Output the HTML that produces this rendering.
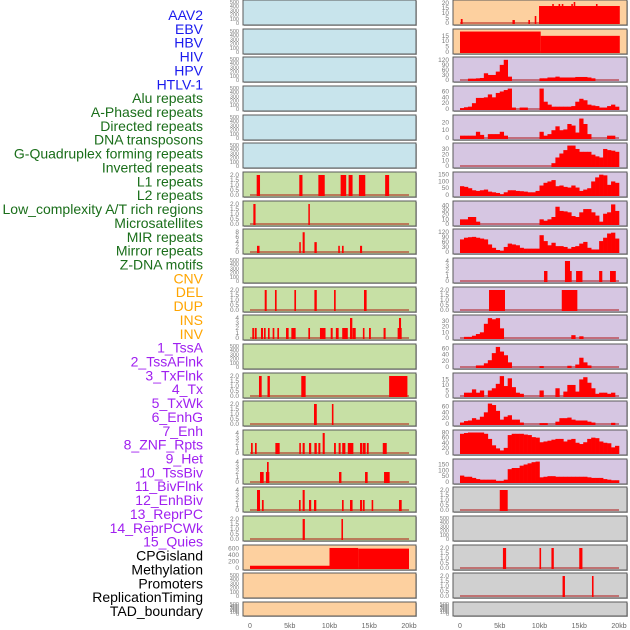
<!DOCTYPE html>
<html><head><meta charset="utf-8">
<style>
body{margin:0;background:#fff;}
svg{display:block;font-family:"Liberation Sans",sans-serif;}
</style></head>
<body>
<svg id="chart" width="630" height="630" viewBox="0 0 630 630"></svg>
<script>
// ---------- labels ----------
const trackLabels = ["AAV2","EBV","HBV","HIV","HPV","HTLV-1","Alu repeats","A-Phased repeats","Directed repeats","DNA transposons","G-Quadruplex forming repeats","Inverted repeats","L1 repeats","L2 repeats","Low_complexity A/T rich regions","Microsatellites","MIR repeats","Mirror repeats","Z-DNA motifs","CNV","DEL","DUP","INS","INV","1_TssA","2_TssAFlnk","3_TxFlnk","4_Tx","5_TxWk","6_EnhG","7_Enh","8_ZNF_Rpts","9_Het","10_TssBiv","11_BivFlnk","12_EnhBiv","13_ReprPC","14_ReprPCWk","15_Quies","CPGisland","Methylation","Promoters","ReplicationTiming","TAD_boundary"];
const labelGroups = [6,13,5,15,5]; // viruses, repeats, SV, chromatin states, other
const xTickLabels = ["0","5kb","10kb","15kb","20kb"];
const xTickValues = [0,5,10,15,20];

// ---------- left column data: segments [startKb, endKb, value] ----------
const L7 = [[0.84,1.26,2],[6.2,6.6,2],[8.6,9.4,2],[11.4,12.1,2],[12.4,12.9,2],[13.7,14.5,2],[17.0,17.5,2]];
const L8 = [[0.42,0.7,2],[7.34,7.5,2]];
const L9 = [[0.88,1.2,2.5],[6.2,6.37,4],[6.62,6.88,8],[8.1,8.4,4],[11.1,11.3,2.5],[11.57,11.78,2.5],[13.84,14.1,2.5]];
const L11 = [[1.85,2.1,2],[3.14,3.35,2],[5.58,5.79,2],[8.1,8.4,2],[10.57,10.78,2],[14.34,14.67,2]];
const L12 = [[0.29,0.5,2],[0.59,0.84,2],[1.38,1.64,2],[1.76,1.97,2],[2.26,2.47,2],[2.85,3.06,2],[3.44,3.65,2],[4.53,4.86,2],[5.2,5.74,2],[7.34,7.55,2],[8.8,9.5,2],[10.15,10.4,2],[10.8,11.15,2],[11.6,12.3,2],[12.58,12.87,4],[12.9,13.3,2],[14.2,14.4,2],[14.97,15.2,2],[16.8,17.06,2],[18.57,19.08,2],[18.74,19.0,4]];
const L14 = [[1.13,1.47,2],[2.2,2.5,2],[6.45,7.0,2],[17.5,19.8,2]];
const L15 = [[8.05,8.4,2],[10.3,10.5,2]];
const L16 = [[0.13,0.34,2],[0.63,0.84,2],[3.19,3.73,2],[6.2,6.4,2],[6.62,6.88,2],[7.42,7.7,2],[8.1,8.4,2],[8.6,8.85,2],[9.14,9.4,4],[10.57,10.8,2],[11.15,11.4,2],[11.6,12.0,2],[12.3,13.0,2],[13.84,14.1,2],[14.17,14.55,2],[14.7,14.93,2],[16.7,17.2,2]];
const L17 = [[1.26,1.72,2],[2.0,2.43,2],[2.14,2.35,4],[11.2,11.5,2],[14.47,14.8,2],[16.86,17.57,2]];
const L18 = [[0.88,1.26,4],[1.5,1.72,2],[6.16,6.37,2],[6.62,6.88,4],[7.42,7.7,2],[8.05,8.34,2],[11.57,11.78,2],[12.58,12.9,2],[13.84,14.1,2],[14.2,14.42,2],[15.3,15.5,2],[18.74,19.08,2]];
const L19 = [[6.62,6.9,2],[11.5,11.7,2]];
const L20 = [[0,10,70],[10,13.6,620],[13.6,20,600]];

// ---------- right column data ----------
const R1 = [[0.1,0.33,4],[6.6,6.9,3],[8.6,8.8,3],[9.4,9.6,7],[9.94,20.1,17],[11.6,11.8,19],[12.4,12.6,19],[12.8,13.0,19],[14.0,14.2,19],[14.3,14.5,21],[17.1,17.3,19]];
const R2 = [[0,10.15,19],[10.15,20.1,15]];
const R10 = [[10.57,11.0,2],[13.2,13.84,4],[13.84,14.05,2],[14.6,15.4,2],[17.5,17.9,2],[18.87,19.6,2]];
const R11 = [[3.65,5.66,2],[12.8,14.76,2]];
const R18 = [[5.0,6.0,2]];
const R20 = [[5.4,5.8,2],[10.0,10.2,2],[11.5,11.8,2],[15.0,15.4,2]];
const R21 = [[12.9,13.2,2],[16.6,16.8,2]];
// histograms: values per 0.5kb bin, 0–20kb
const R3 = [0,0,8,8,10,12,40,30,30,50,90,120,20,0,0,0,0,0,0,0,10,10,15,15,20,15,15,15,15,18,18,18,15,10,0,0,0,0,0,0];
const R4 = [3,6,8,20,38,38,40,50,40,55,60,65,70,5,0,5,5,0,0,0,70,25,15,8,8,8,8,8,10,25,35,30,15,12,10,5,5,10,15,8];
const R5 = [3,3,3,3,8,4,0,5,5,5,8,3,0,0,0,0,0,0,0,0,8,3,5,10,15,10,11,18,16,7,25,18,5,0,0,0,0,3,3,0];
const R6 = [0,0,0,0,0,0,0,0,0,0,0,0,0,0,0,0,0,0,0,0,0,0,0,5,15,22,28,36,36,30,25,25,25,20,17,15,30,28,27,25];
const R7 = [65,60,50,35,30,35,40,25,20,15,5,20,35,35,30,28,25,20,20,30,70,90,100,110,65,70,60,55,70,55,30,40,50,100,130,150,145,75,100,90];
const R8 = [10,10,15,15,5,0,0,0,0,0,0,0,0,0,0,0,0,0,0,0,10,7,10,15,37,28,27,25,17,15,25,32,32,25,18,5,22,25,42,28];
const R9 = [75,85,88,90,85,80,75,45,25,12,8,30,50,45,40,25,20,20,20,20,100,65,40,55,35,35,30,20,30,35,50,60,25,15,15,65,85,110,115,80];
const R12 = [0,2,2,4,7,10,25,35,33,35,17,0,0,0,0,0,0,0,0,0,0,0,0,0,0,0,0,0,5,0,3,0,0,0,0,0,0,0,0,0];
const R13 = [0,0,0,0,5,5,12,22,45,65,50,38,15,0,0,0,0,0,0,0,3,0,0,0,0,0,0,4,0,8,30,15,5,0,0,0,0,0,0,0];
const R14 = [0,3,3,6,3,5,0,5,7,11,18,9,16,8,3,2,0,0,0,0,5,0,0,0,7,0,4,10,10,4,15,17,12,7,2,3,3,2,3,0];
const R15 = [5,10,12,20,15,25,40,70,65,45,15,25,30,15,15,5,0,0,0,0,3,3,0,0,8,20,20,22,15,12,12,12,8,5,0,0,0,0,4,0];
const R16 = [75,78,80,80,80,80,75,55,30,18,10,20,70,75,75,75,72,70,62,60,42,45,48,52,55,55,45,52,55,40,35,42,55,60,58,45,40,38,22,28];
const R17 = [55,45,45,35,25,20,20,20,20,10,10,20,110,120,120,140,150,160,170,175,40,45,50,50,45,45,45,45,45,45,45,45,40,35,35,35,25,20,15,15];

// ---------- panel layout ----------
const panelTops = [0,29,57,86,115,143,172,201,229,258,287,315,344,373,401,430,459,487,516,545,573,602];
const leftData = [null,null,null,null,null,null,L7,L8,L9,null,L11,L12,null,L14,L15,L16,L17,L18,L19,L20,null,null];
const rightData = [R1,R2,R3,R4,R5,R6,R7,R8,R9,R10,R11,R12,R13,R14,R15,R16,R17,R18,null,R20,R21,null];
const leftMax = [500,500,500,500,500,500,2.1,2.1,8.5,500,2.1,4.2,500,2.1,2.1,4.2,4.2,4.2,2.1,650,500,500];
const rightMax = [21,19.5,125,72,27,37,155,45,125,4.2,2.1,37,68,19,72,82,180,2.1,500,2.1,2.1,500];
const leftTicks = [null,null,null,null,null,null,"h","h",[0,2,4,6,8],null,"h",[0,1,2,3,4],null,"h","h",[0,1,2,3,4],[0,1,2,3,4],[0,1,2,3,4],"h",[0,200,400,600],null,null];
const rightTicks = [[0,5,10,15,20],[0,5,10,15],[0,30,60,90,120],[0,20,40,60],[0,10,20],[0,10,20,30],[0,50,100,150],[0,10,20,30,40],[0,30,60,90,120],[0,1,2,3,4],"h",[0,10,20,30],[0,20,40,60],[0,5,10,15],[0,20,40,60],[0,20,40,60,80],[0,50,100,150],"h",null,"h","h",null];

const NS = "http://www.w3.org/2000/svg";
const svg = document.getElementById('chart');
function mk(tag, attrs, parent){const e=document.createElementNS(NS,tag);for(const k in attrs)e.setAttribute(k,attrs[k]);(parent||svg).appendChild(e);return e;}

// labels
const groupColors = ["#1a1aee","#1a6e1a","#ffa500","#a020f0","#000000"];
let gi=0, gc=0;
trackLabels.forEach((t,i)=>{
  const t1 = mk('text',{x:203,y:15+i*13.86+5,'text-anchor':'end','font-size':14,fill:groupColors[gi]});
  t1.textContent=t;
  
  
  gc++; if(gc>=labelGroups[gi]){gi++;gc=0;}
});

function bgLeft(i){return i<6?"#c8e4ec":(i<19?"#c7e0a5":"#fdd09f");}
function bgRight(i){return i<2?"#fdd09f":(i<17?"#d6c6e2":"#d0d0d0");}

function drawPanel(col,i){
  const x0 = col===0?243:453, w = col===0?173:174;
  const top = panelTops[i], h = i===21?14:25;
  const data = col===0?leftData[i]:rightData[i];
  let ymax = col===0?leftMax[i]:rightMax[i];
  let ticks = col===0?leftTicks[i]:rightTicks[i];
  const g = mk('g',{});
  
  
  mk('rect',{x:x0+1,y:top+1,width:w,height:h,fill:'#b8b8b8'},g);
  mk('rect',{x:x0,y:top,width:w,height:h,fill:col===0?bgLeft(i):bgRight(i),stroke:'#5a5a5a','stroke-width':1},g);
  const xs = kb => x0+7+kb*7.95;
  const yb = top+h-2, yt = top+2;
  const ys = v => yb - v/ymax*(yb-yt);
  // ticks
  let tv, tl;
  if(ticks===null){tv=[0,100,200,300,400,500];}
  else if(ticks==="h"){tv=[0,0.5,1,1.5,2];}
  else tv=ticks;
  tv.forEach(v=>{
    const t=mk('text',{x:x0-4,y:ys(v)+2,'text-anchor':'end','font-size':ticks===null?5.5:6.5,fill:'#7a7a7a'},g);
    t.textContent = ticks==="h"?v.toFixed(1):String(v);
    
    
  });
  if(!data) return;
  // baseline
  mk('line',{x1:xs(0),x2:xs(20),y1:yb,y2:yb,stroke:'rgba(170,0,0,0.45)','stroke-width':2},g);
  if(typeof data[0]==='number'){
    data.forEach((v,b)=>{
      if(v<=0) return;
      const r=mk('rect',{x:xs(b*0.5),y:ys(v),width:xs((b+1)*0.5)-xs(b*0.5)+0.3,height:yb-ys(v)+1,fill:'#ff0000'},g);
      
      
    });
  } else {
    data.forEach(s=>{
      const r=mk('rect',{x:xs(s[0]),y:ys(s[2]),width:Math.max(1.5,xs(s[1])-xs(s[0])),height:yb-ys(s[2])+1,fill:'#ff0000'},g);
      
      
    });
  }
}
for(let i=0;i<22;i++){drawPanel(0,i);drawPanel(1,i);}

// x axes
[250,460].forEach((xb,c)=>{
  xTickValues.forEach((v,k)=>{
    const t=mk('text',{x:xb+v*7.95,y:628,'text-anchor':'middle','font-size':7,fill:'#666'});
    t.textContent=xTickLabels[k];
    
    
  });
});
</script>
</body></html>
